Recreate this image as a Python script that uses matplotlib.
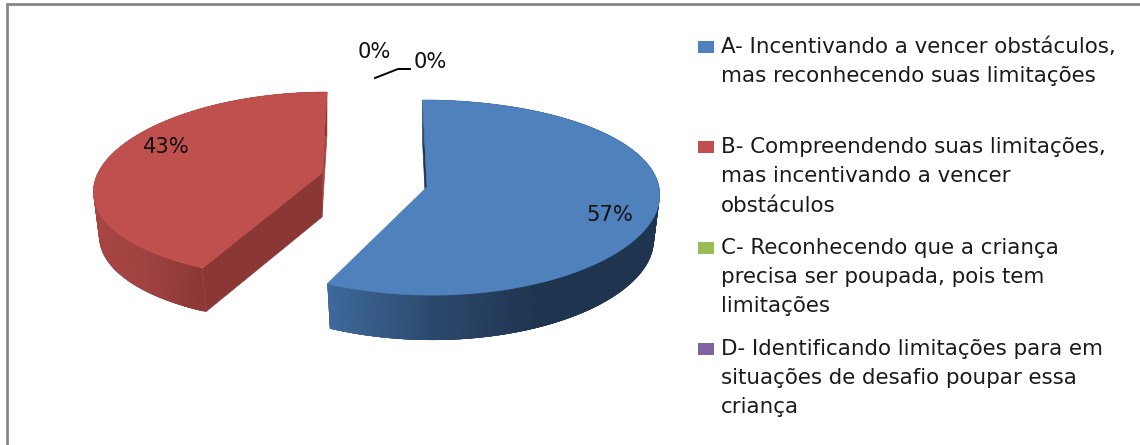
import numpy as np
import matplotlib
matplotlib.use('Agg')
import matplotlib.pyplot as plt
from matplotlib.collections import PolyCollection
from matplotlib.patches import Polygon, Rectangle
from matplotlib.colors import to_rgb

# dados do grafico
categorias = ['A', 'B', 'C', 'D']
valores = [57, 43, 0, 0]
cores = ['#4F81BD', '#C0504D', '#9BBB59', '#8064A2']
legenda = [
    'A- Incentivando a vencer obstáculos,\nmas reconhecendo suas limitações',
    'B- Compreendendo suas limitações,\nmas incentivando a vencer\nobstáculos',
    'C- Reconhecendo que a criança\nprecisa ser poupada, pois tem\nlimitações',
    'D- Identificando limitações para em\nsituações de desafio poupar essa\ncriança',
]

# geometria em pixels de cada fatia (perspectiva do pie 3D)
geo = {
    0: dict(cx=427, cy=187, rx=232, ry=96.4, b=0.108, bx=0.06, shear=0.05, prof=45,
            lado=['#3F6A9C', '#2C4A6E', '#1F344F', '#1F344F'], corte='#1F344F'),
    1: dict(cx=322, cy=173, rx=224, ry=92, b=0.136, bx=0.176, shear=-0.062, prof=44,
            lado=['#A84543', '#A04341', '#8B3735', '#8B3735'], corte='#A84846'),
}
frente = '#8A3735'
legenda_y = [[47, 76], [147, 176, 206], [248, 277, 306], [349, 378, 407]]
quad_y = [47, 147, 248, 349]


def ponto(g, t, r=1.0, baixo=False):
    u, v = r * np.sin(t), r * np.cos(t)
    x = g['rx'] * u / (1 + g['bx'] * v)
    y = -g['ry'] * v / (1 + g['b'] * v)
    x = x + g['shear'] * y
    if baixo:
        return g['cx'] + 0.975 * x, g['cy'] + y + g['prof']
    return g['cx'] + x, g['cy'] + y


fig = plt.figure(figsize=(11.4, 4.45), dpi=100)
ax = fig.add_axes([0, 0, 1, 1])
ax.set_xlim(0, 1140)
ax.set_ylim(445, 0)
ax.axis('off')
plt.rcParams['font.family'] = ['DejaVu Sans']

# moldura
ax.plot([7, 7, 1140], [445, 4, 4], color='#868686', lw=2, solid_joinstyle='miter')

fracoes = np.array(valores) / sum(valores)
limites = np.concatenate([[0], np.cumsum(fracoes)]) * 2 * np.pi

for i in [0, 1]:
    g = geo[i]
    t0, t1 = limites[i], limites[i + 1]
    ts = np.linspace(t0, t1, 240)
    topo = np.array([ponto(g, t) for t in ts])
    base = np.array([ponto(g, t, baixo=True) for t in ts])
    apice = ponto(g, 0, 0)
    apice_b = ponto(g, 0, 0, True)

    # face de corte de tras
    ax.add_patch(Polygon([ponto(g, 0 if i == 0 else t1), apice, apice_b,
                          ponto(g, 0 if i == 0 else t1, baixo=True)],
                         fc=g['corte'], ec=g['corte'], lw=0.5))

    # lateral com gradiente, cada quad passa por cima do vizinho para nao ter emenda
    rgb = np.array([to_rgb(c) for c in g['lado']])
    if i == 0:
        xs = np.array([326, 430, 540, 660])
    else:
        xs = np.array([94, 140, 206, 330])
    quads, cs = [], []
    for k in range(len(ts) - 1):
        k2 = min(k + 4, len(ts) - 1)
        quads.append([topo[k], topo[k2], base[k2], base[k]])
        xm = (topo[k, 0] + topo[k + 1, 0]) / 2
        cs.append([np.interp(xm, xs, rgb[:, j]) for j in range(3)])
    ax.add_collection(PolyCollection(quads, facecolors=cs, edgecolors='none'))

    # face de corte da frente (so a fatia B mostra)
    if i == 1:
        ax.add_patch(Polygon([apice, topo[0], base[0], apice_b], fc=frente, ec=frente, lw=0.5))

    # topo
    ax.add_patch(Polygon(np.vstack([topo, [apice]]), fc=cores[i], ec=cores[i], lw=0.5))

# rotulos de percentual
pos_rotulos = [(610, 215), (166, 147), (374, 52), (430, 62)]
for v, (x, y) in zip(valores, pos_rotulos):
    ax.text(x, y, f'{v}%', ha='center', va='center', fontsize=15.2, color='#111111')
ax.plot([375, 398, 410], [78, 69, 69], color='black', lw=1.4)

# legenda
for c, linhas, ys, qy in zip(cores, legenda, legenda_y, quad_y):
    ax.add_patch(Rectangle((698, qy - 6), 16, 12, fc=c, ec='none'))
    for texto, y in zip(linhas.split('\n'), ys):
        ax.text(721, y, texto, ha='left', va='center', fontsize=15.4, color='#1a1a1a')

fig.savefig('out.png', dpi=100)
